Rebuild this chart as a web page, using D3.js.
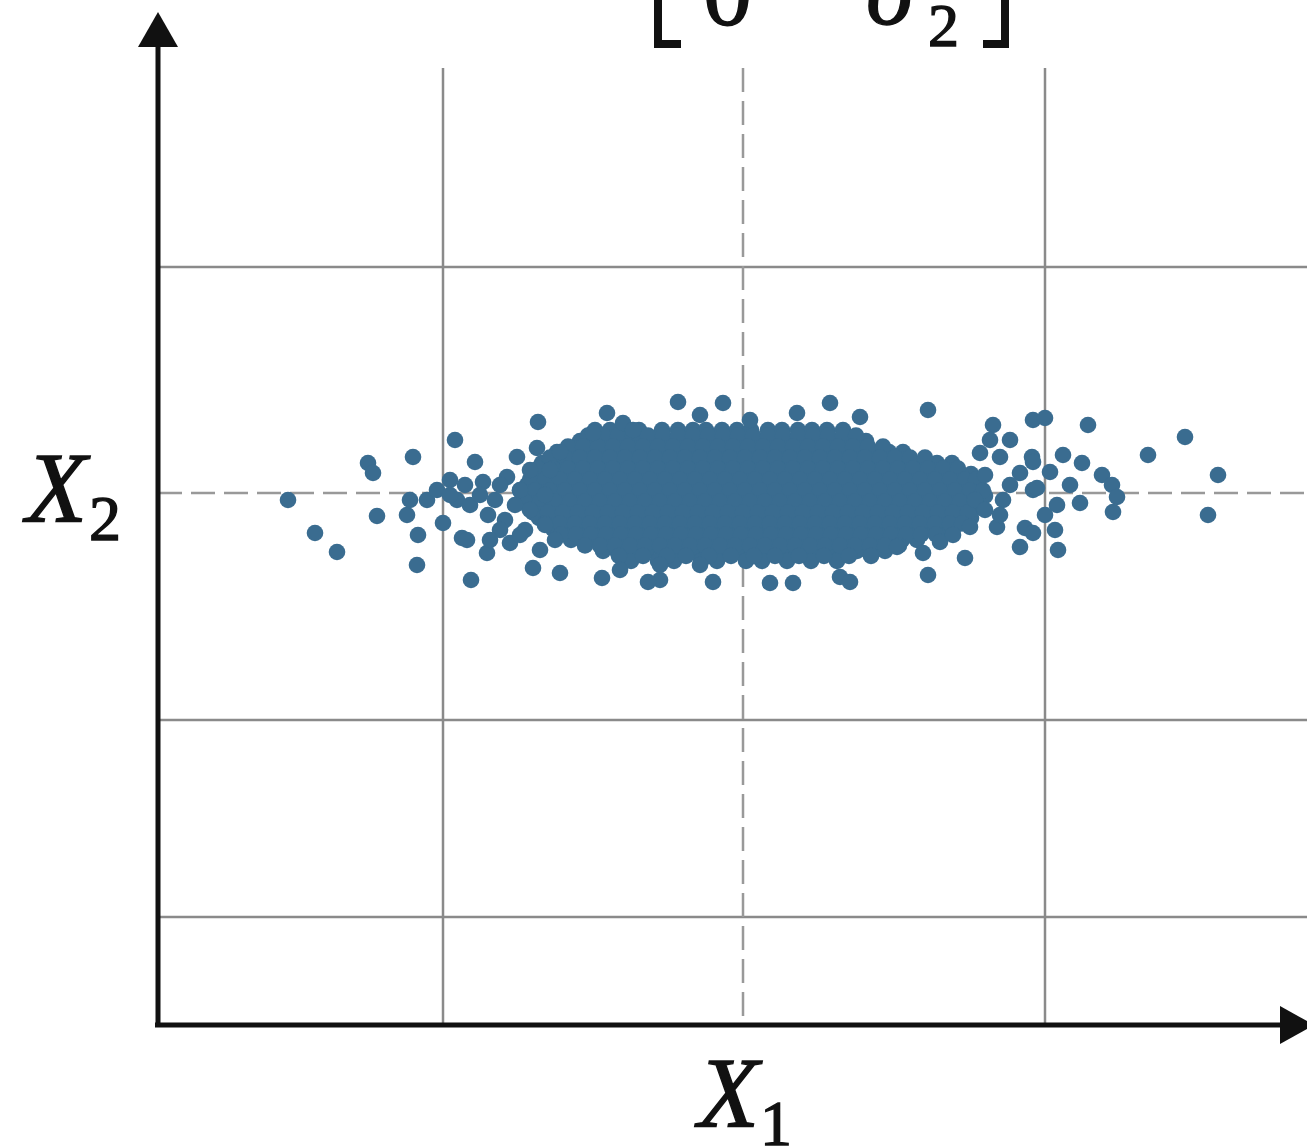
<!DOCTYPE html>
<html>
<head>
<meta charset="utf-8">
<script src="https://cdn.jsdelivr.net/npm/d3@7"></script>
<style>
  html, body { margin: 0; padding: 0; background: #fff; }
  svg { display: block; }
</style>
</head>
<body>
<div id="chart"></div>
<script>
// grid positions (data units, centre of the cloud at 0,0)
const xGridSolid = [-30, 30.2];
const yGridSolid = [22.6, -22.7, -42.4];
const xGridDashed = [0];
const yGridDashed = [0];

// scattered points [x1, x2]
const outerPoints = [
  [-45.5, -0.7], [-42.8, -4.0], [-40.6, -5.9], [-37.5, 3.0], [-37.0, 2.0], [-36.6, -2.3],
  [-33.0, 3.6], [-33.6, -2.2], [-32.6, -7.2], [-32.5, -4.2], [-33.3, -0.7], [-31.6, -0.7],
  [-30.6, 0.3], [-30.0, -3.0], [-29.3, 1.3], [-28.6, -0.7], [-28.8, 5.3], [-28.1, -4.5],
  [-27.2, -8.7], [-26.8, 3.1], [-26.0, 1.1], [-27.6, -4.7], [-25.6, -6.0], [-23.3, -5.0],
  [-21.0, -7.5], [-20.3, -5.7], [-18.3, -8.0], [-14.1, -8.5], [-20.5, 7.1], [-20.6, 4.5],
  [-22.6, 3.6], [-18.3, 4.1], [-23.6, 1.6], [-13.6, 8.0], [-12.0, 7.0], [-11.0, 6.3],
  [-15.0, 6.0], [-29.3, -0.2], [-27.8, 0.8], [-27.3, -1.2], [-26.3, -0.2], [-25.5, -2.2],
  [-24.8, -0.7], [-24.3, 0.8], [-23.8, -2.7], [-22.8, -1.2], [-22.3, 0.3], [-21.8, -3.7],
  [-21.3, 2.3], [-21.3, -1.7], [-19.8, -0.2], [-19.8, -3.2], [-19.3, 2.3], [-18.8, -4.7],
  [-22.3, -4.2], [-24.3, -3.7], [-25.3, -4.7],
  [-6.5, 9.1], [-2.0, 9.0], [-4.3, 7.8], [0.7, 7.3], [5.4, 8.0], [8.7, 9.0],
  [-8.3, -8.7], [-9.5, -8.9], [-3.0, -8.9], [2.7, -9.0], [5.0, -9.0], [9.7, -8.4],
  [10.7, -8.9], [-4.3, -7.2], [-12.3, -7.7], [-8.3, -7.2],
  [11.7, 7.6], [18.5, 8.3], [25.0, 6.8], [29.0, 7.3], [30.2, 7.5], [23.7, 4.0],
  [25.7, 3.6], [28.9, 3.6], [27.7, 2.0], [29.0, 0.3], [26.0, -0.7], [25.4, -3.4],
  [28.2, -3.5], [27.7, -5.4], [22.2, -6.5], [18.5, -8.2], [18.0, -6.0], [19.7, -4.9],
  [21.0, -4.2], [22.7, -3.4], [15.4, -5.4], [34.5, 6.8], [44.2, 5.6], [40.5, 3.8],
  [47.5, 1.8], [46.5, -2.2], [32.0, 3.8], [33.9, 3.0], [30.7, 2.1], [35.9, 1.8],
  [36.9, 0.8], [37.4, -0.4], [37.0, -1.9], [32.7, 0.8], [33.7, -1.0], [31.4, -1.2],
  [29.4, 0.5], [29.0, 3.1], [29.0, -4.0], [31.5, -5.7], [26.7, 5.3], [24.7, 5.3],
  [24.2, 1.8], [26.7, 0.8], [25.7, -2.2], [30.2, -2.2], [31.2, -3.7], [23.2, -0.7],
  [24.2, -1.7]
];

// the dense core, read row by row: x2 level and the x1 values along it
const coreRows = [
  { y: 6.3, xs: [-14.8, -13.3, -11.7, -10.4, -8.1, -6.5, -5.0, -3.7, -2.1, -0.6, 0.8, 2.5, 3.9, 5.5, 6.9, 8.4, 10.0] },
  { y: 5.2, xs: [-16.3, -14.8, -13.3, -11.9, -10.2, -8.8, -7.2, -5.8, -4.3, -2.8, -1.2, 0.2, 1.7, 3.3, 4.8, 6.2, 7.8, 9.2, 10.8, 12.3] },
  { y: 4.1, xs: [-18.6, -17.1, -15.6, -14.1, -12.5, -11.0, -9.6, -8.1, -6.5, -5.0, -3.5, -2.0, -0.4, 1.0, 2.5, 4.1, 5.6, 7.0, 8.5, 10.1, 11.6, 13.0, 14.6, 16.0] },
  { y: 3.0, xs: [-20.1, -18.5, -17.0, -15.5, -14.0, -12.4, -10.9, -9.4, -7.9, -6.3, -4.8, -3.3, -1.8, -0.2, 1.3, 2.8, 4.3, 5.8, 7.3, 8.9, 10.4, 11.8, 13.4, 14.9, 16.4, 18.0, 19.4, 20.9] },
  { y: 1.9, xs: [-21.0, -19.6, -18.0, -16.5, -15.0, -13.5, -12.0, -10.4, -8.9, -7.4, -5.9, -4.4, -2.9, -1.3, 0.2, 1.7, 3.2, 4.7, 6.3, 7.8, 9.3, 10.8, 12.3, 13.8, 15.3, 16.9, 18.4, 19.9, 21.4, 22.8] },
  { y: 0.8, xs: [-21.6, -20.1, -18.6, -17.1, -15.6, -14.1, -12.6, -11.1, -9.6, -8.1, -6.6, -5.1, -3.6, -2.1, -0.6, 0.9, 2.4, 3.9, 5.4, 6.9, 8.4, 9.9, 11.4, 12.9, 14.4, 15.9, 17.4, 18.9, 20.4, 21.9, 23.5] },
  { y: -0.3, xs: [-22.0, -20.6, -19.1, -17.6, -16.1, -14.6, -13.1, -11.6, -10.1, -8.6, -7.1, -5.6, -4.1, -2.6, -1.1, 0.4, 1.9, 3.4, 4.9, 6.4, 7.9, 9.4, 10.9, 12.4, 13.9, 15.4, 16.9, 18.4, 19.9, 21.4, 22.9, 24.2] },
  { y: -1.4, xs: [-21.4, -19.9, -18.4, -16.9, -15.4, -13.9, -12.4, -10.9, -9.4, -7.9, -6.4, -4.9, -3.4, -1.9, -0.4, 1.1, 2.6, 4.1, 5.6, 7.1, 8.6, 10.1, 11.6, 13.1, 14.6, 16.1, 17.6, 19.1, 20.6, 22.1, 23.5] },
  { y: -2.5, xs: [-20.4, -18.9, -17.4, -15.9, -14.4, -12.9, -11.4, -9.9, -8.4, -6.9, -5.4, -3.9, -2.4, -0.9, 0.6, 2.1, 3.6, 5.1, 6.6, 8.1, 9.6, 11.1, 12.6, 14.1, 15.6, 17.1, 18.6, 20.1, 21.6, 22.8] },
  { y: -3.6, xs: [-19.0, -17.6, -16.1, -14.6, -13.1, -11.6, -10.1, -8.6, -7.1, -5.6, -4.1, -2.6, -1.1, 0.4, 1.9, 3.4, 4.9, 6.4, 7.9, 9.4, 10.9, 12.4, 13.9, 15.4, 16.9, 18.4, 19.9, 21.0] },
  { y: -4.7, xs: [-17.2, -15.6, -14.1, -12.6, -11.1, -9.6, -8.1, -6.6, -5.1, -3.6, -2.1, -0.6, 0.9, 2.4, 3.9, 5.4, 6.9, 8.4, 9.9, 11.4, 12.9, 14.4, 15.9, 17.4] },
  { y: -5.8, xs: [-14.0, -12.6, -11.1, -9.6, -8.1, -6.6, -5.1, -3.6, -2.1, -0.6, 0.9, 2.4, 3.9, 5.4, 6.9, 8.4, 9.9, 11.4, 12.9, 14.2] },
  { y: -6.8, xs: [-11.2, -8.5, -6.9, -4.2, -2.6, 0.3, 1.9, 4.4, 6.8, 9.4] }
];

// the points lying between those rows
const coreRowsBetween = [
  { y: 5.75, xs: [-15.5, -14.0, -12.5, -11.0, -9.5, -8.0, -6.5, -5.0, -3.5, -2.0, -0.5, 1.0, 2.5, 4.0, 5.5, 7.0, 8.5, 10.0, 11.3] },
  { y: 4.65, xs: [-17.5, -16.0, -14.5, -13.0, -11.5, -10.0, -8.5, -7.0, -5.5, -4.0, -2.5, -1.0, 0.5, 2.0, 3.5, 5.0, 6.5, 8.0, 9.5, 11.0, 12.5, 14.0] },
  { y: 3.55, xs: [-19.3, -17.8, -16.3, -14.8, -13.3, -11.8, -10.3, -8.8, -7.3, -5.8, -4.3, -2.8, -1.3, 0.2, 1.7, 3.2, 4.7, 6.2, 7.7, 9.2, 10.7, 12.2, 13.7, 15.2, 16.7, 18.2] },
  { y: 2.45, xs: [-20.5, -19.0, -17.5, -16.0, -14.5, -13.0, -11.5, -10.0, -8.5, -7.0, -5.5, -4.0, -2.5, -1.0, 0.5, 2.0, 3.5, 5.0, 6.5, 8.0, 9.5, 11.0, 12.5, 14.0, 15.5, 17.0, 18.5, 20.0, 21.5] },
  { y: 1.35, xs: [-21.3, -19.8, -18.3, -16.8, -15.3, -13.8, -12.3, -10.8, -9.3, -7.8, -6.3, -4.8, -3.3, -1.8, -0.3, 1.2, 2.7, 4.2, 5.7, 7.2, 8.7, 10.2, 11.7, 13.2, 14.7, 16.2, 17.7, 19.2, 20.7, 22.2, 23.3] },
  { y: 0.25, xs: [-22.3, -20.8, -19.3, -17.8, -16.3, -14.8, -13.3, -11.8, -10.3, -8.8, -7.3, -5.8, -4.3, -2.8, -1.3, 0.2, 1.7, 3.2, 4.7, 6.2, 7.7, 9.2, 10.7, 12.2, 13.7, 15.2, 16.7, 18.2, 19.7, 21.2, 22.7, 24.0] },
  { y: -0.85, xs: [-21.8, -20.3, -18.8, -17.3, -15.8, -14.3, -12.8, -11.3, -9.8, -8.3, -6.8, -5.3, -3.8, -2.3, -0.8, 0.7, 2.2, 3.7, 5.2, 6.7, 8.2, 9.7, 11.2, 12.7, 14.2, 15.7, 17.2, 18.7, 20.2, 21.7, 23.2] },
  { y: -1.95, xs: [-21.0, -19.5, -18.0, -16.5, -15.0, -13.5, -12.0, -10.5, -9.0, -7.5, -6.0, -4.5, -3.0, -1.5, 0.0, 1.5, 3.0, 4.5, 6.0, 7.5, 9.0, 10.5, 12.0, 13.5, 15.0, 16.5, 18.0, 19.5, 21.0, 22.5] },
  { y: -3.05, xs: [-19.8, -18.3, -16.8, -15.3, -13.8, -12.3, -10.8, -9.3, -7.8, -6.3, -4.8, -3.3, -1.8, -0.3, 1.2, 2.7, 4.2, 5.7, 7.2, 8.7, 10.2, 11.7, 13.2, 14.7, 16.2, 17.7, 19.2, 20.7, 21.9] },
  { y: -4.15, xs: [-18.2, -16.7, -15.2, -13.7, -12.2, -10.7, -9.2, -7.7, -6.2, -4.7, -3.2, -1.7, -0.2, 1.3, 2.8, 4.3, 5.8, 7.3, 8.8, 10.3, 11.8, 13.3, 14.8, 16.3, 17.8, 19.3] },
  { y: -5.25, xs: [-15.8, -14.3, -12.8, -11.3, -9.8, -8.3, -6.8, -5.3, -3.8, -2.3, -0.8, 0.7, 2.2, 3.7, 5.2, 6.7, 8.2, 9.7, 11.2, 12.7, 14.2, 15.6] },
  { y: -6.3, xs: [-12.4, -10.0, -7.6, -5.7, -3.4, -1.2, 1.1, 3.2, 5.6, 8.1, 10.6, 12.8] }
];

const W = 1307, H = 1146;

const svg = d3.select("#chart").append("svg")
  .attr("width", W)
  .attr("height", H)
  .attr("viewBox", `0 0 ${W} ${H}`);

// 10 px per unit, origin of the cloud at (743, 493)
const x = d3.scaleLinear().domain([-58.5, 56.4]).range([158, 1307]);
const y = d3.scaleLinear().domain([-53.2, 48]).range([1025, 13]);

const gridTop = 42.5;

// solid grid
svg.append("g").selectAll("line")
  .data(xGridSolid)
  .enter().append("line")
  .attr("x1", d => x(d)).attr("x2", d => x(d))
  .attr("y1", y(gridTop)).attr("y2", y.range()[0])
  .attr("stroke", "#8a8a8a").attr("stroke-width", 2.5);

svg.append("g").selectAll("line")
  .data(yGridSolid)
  .enter().append("line")
  .attr("x1", x.range()[0]).attr("x2", x.range()[1])
  .attr("y1", d => y(d)).attr("y2", d => y(d))
  .attr("stroke", "#8a8a8a").attr("stroke-width", 2.5);

// dashed mean lines
svg.append("g").selectAll("line")
  .data(xGridDashed)
  .enter().append("line")
  .attr("x1", d => x(d)).attr("x2", d => x(d))
  .attr("y1", y(gridTop)).attr("y2", y.range()[0])
  .attr("stroke", "#999").attr("stroke-width", 2.5)
  .attr("stroke-dasharray", "24,9");

svg.append("g").selectAll("line")
  .data(yGridDashed)
  .enter().append("line")
  .attr("x1", x.range()[0]).attr("x2", x.range()[1])
  .attr("y1", d => y(d)).attr("y2", d => y(d))
  .attr("stroke", "#999").attr("stroke-width", 2.5)
  .attr("stroke-dasharray", "24,9");

// points
const toPoints = rows => rows.flatMap(r => r.xs.map(v => [v, r.y]));
const allPoints = toPoints(coreRows)
  .concat(toPoints(coreRowsBetween))
  .concat(outerPoints);

svg.append("g").selectAll("circle")
  .data(allPoints)
  .enter().append("circle")
  .attr("cx", d => x(d[0]))
  .attr("cy", d => y(d[1]))
  .attr("r", 8.3)
  .attr("fill", "#3a6c90");

// axes with arrow heads
const axisG = svg.append("g").attr("stroke", "#111").attr("fill", "#111");
const x0 = x.range()[0], y0 = y.range()[0];

axisG.append("line")
  .attr("x1", x0).attr("x2", x0)
  .attr("y1", y0 + 2).attr("y2", 45)
  .attr("stroke-width", 5);
axisG.append("path")
  .attr("d", `M${x0},12 L${x0 + 20},47 L${x0 - 20},47 Z`)
  .attr("stroke", "none");

axisG.append("line")
  .attr("x1", x0 - 3).attr("x2", 1285)
  .attr("y1", y0).attr("y2", y0)
  .attr("stroke-width", 5);
axisG.append("path")
  .attr("d", `M1314,${y0} L1280,${y0 - 19} L1280,${y0 + 19} Z`)
  .attr("stroke", "none");

// labels
const font = "'Liberation Serif', 'Times New Roman', serif";

const label = (tx, ty, size, italic, str) => svg.append("text")
  .attr("x", tx).attr("y", ty)
  .attr("font-family", font)
  .attr("font-style", italic ? "italic" : "normal")
  .attr("font-size", size)
  .attr("fill", "#111")
  .attr("stroke", "#111").attr("stroke-width", 1.4)
  .text(str);

label(26, 521, 100, true, "X");
label(89, 540, 64, false, "2");
label(698, 1126, 100, true, "X");
label(760, 1145, 64, false, "1");

// bottom row of the covariance matrix, cut by the top edge
svg.append("path")
  .attr("d", "M681,44 H658 V-30")
  .attr("fill", "none").attr("stroke", "#111").attr("stroke-width", 8);
svg.append("path")
  .attr("d", "M983,44 H1005 V-30")
  .attr("fill", "none").attr("stroke", "#111").attr("stroke-width", 8);
label(703, 24, 98, false, "0");
label(866, 24, 98, true, "σ");
label(928, 46, 62, false, "2");
</script>
</body>
</html>
